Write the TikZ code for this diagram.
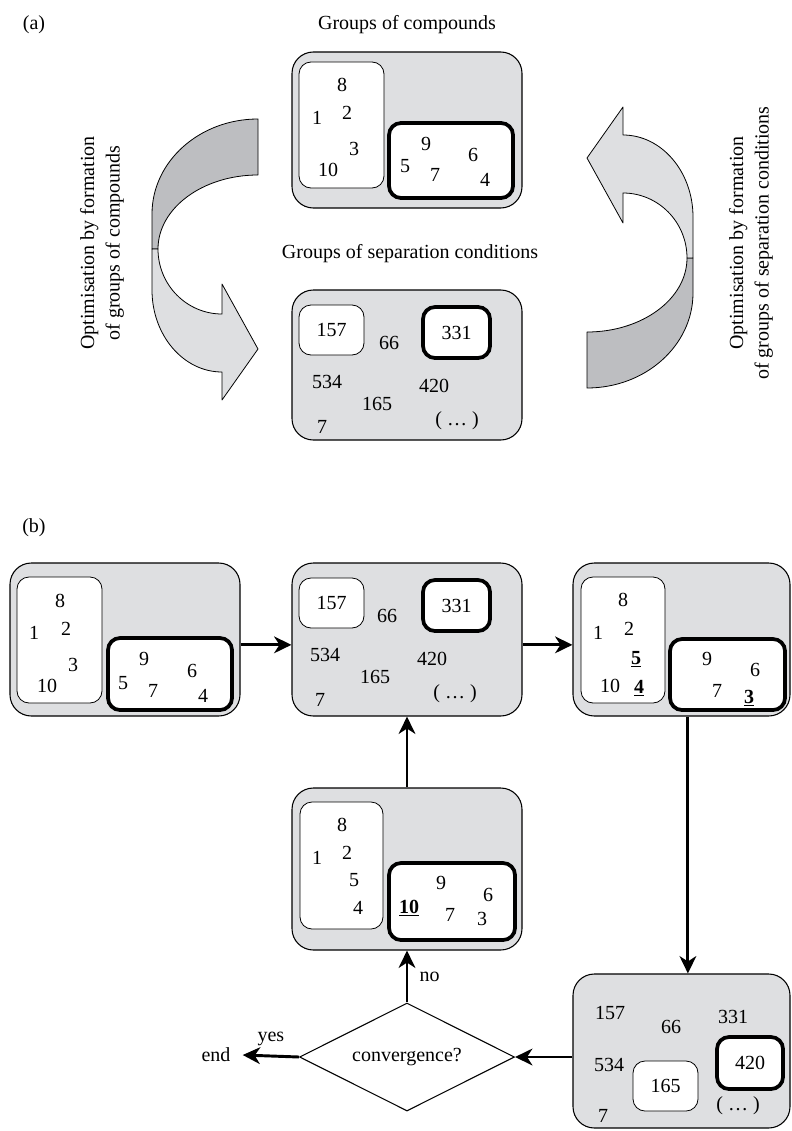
\documentclass[tikz,border=0pt]{standalone}
\usepackage{fontspec}
\setmainfont{Liberation Serif}
\usetikzlibrary{arrows.meta,shapes.geometric}
\definecolor{boxgray}{RGB}{222,223,225}
\definecolor{ribbondark}{RGB}{189,190,193}
\tikzset{
  outerbox/.style={draw, fill=boxgray, rounded corners=16pt, line width=0.8pt, inner sep=0pt},
  whitebox/.style={draw, fill=white, rounded corners=9pt, line width=0.6pt, inner sep=0pt},
  boldbox/.style={draw, fill=white, rounded corners=9pt, line width=2.8pt, inner sep=0pt},
  num/.style={inner sep=1pt},
  flow/.style={line width=2.2pt, -{Stealth[length=13pt,width=12.5pt,inset=4pt]}},
  ribbon/.style={draw, line width=0.6pt, line join=round}
}
% twisted arrow, drawn for the right side
\newcommand{\ribbonarrow}{%
  \path[ribbon, fill=ribbondark] (587,332) -- (587,388) .. controls (645.5,388) and (693,345.5) .. (693,293)
    -- (693,258) -- (687,258) .. controls (687,298.9) and (642.2,332) .. (587,332) -- cycle;
  \path[ribbon, fill=boxgray] (687,258) .. controls (687,222.1) and (658.3,193) .. (623,193) -- (623,223)
    -- (587,158) -- (623,107) -- (623,135) .. controls (661.6,135) and (693,171.7) .. (693,217)
    -- (693,258) -- cycle;}
\begin{document}
\begin{tikzpicture}[x=0.75pt, y=-0.75pt, font=\fontsize{15}{19}\selectfont]
    \useasboundingbox (0,0) rectangle (792,1131);
    % (a)
    \node (la) at (34,25) {(a)};
    \node (tcmp) at (407,25) {Groups of compounds};
    \node (tsep) at (410,254) {Groups of separation conditions};
    \ribbonarrow
    \begin{scope}[rotate around={180:(422.5,253.5)}]
    \ribbonarrow
    \end{scope}
    \node[rotate=90, align=center] (optc) at (102,243) {Optimisation by formation\\of groups of compounds};
    \node[rotate=90, align=center] (opts) at (751,243) {Optimisation by formation\\of groups of separation conditions};

    \node[outerbox, minimum width=172.5pt, minimum height=117pt] (cmpa) at (407,130) {};
    \node[whitebox, minimum width=63.75pt, minimum height=94.5pt] (cmpaw) at (341.5,125) {};
    \node[boldbox, minimum width=93pt, minimum height=56.25pt] (cmpab) at (451,160.5) {};
    \foreach \t/\x/\y in {8/342/85, 1/317/118, 2/347/113, 3/354/149, 10/328/170, 9/426/144, 5/405/166, 7/435/175, 6/473/155, 4/485/180}
        \node[num] (ca-\t) at (\x,\y) {\t};

    \node[outerbox, minimum width=172.5pt, minimum height=112.5pt] (sepa) at (407,365) {};
    \node[whitebox, minimum width=48.75pt, minimum height=37.5pt] (sepaw) at (331.5,330) {157};
    \node[boldbox, minimum width=50.25pt, minimum height=38.25pt] (sepab) at (456.5,332.5) {331};
    \foreach \t/\x/\y in {66/389/343, 534/327/382, 420/434/386, 165/377/404, 7/322/427}
        \node[num] (sa-\t) at (\x,\y) {\t};
    \node[num] (sa-dots) at (457,421) {( \dots\ )};

    % (b)
    \node (lb) at (34,528) {(b)};
    \node[outerbox, minimum width=172.5pt, minimum height=114.75pt] (b1) at (125,639.5) {};
    \node[whitebox, minimum width=63.75pt, minimum height=94.5pt] (b1w) at (59.5,640) {};
    \node[boldbox, minimum width=93pt, minimum height=54pt] (b1b) at (170,674) {};
    \foreach \t/\x/\y in {8/60/601, 1/34/633, 2/66/629, 3/73/665, 10/47/686, 9/144/659, 5/123/683, 7/153/691, 6/192/671, 4/203/696}
        \node[num] (b1-\t) at (\x,\y) {\t};

    \node[outerbox, minimum width=172.5pt, minimum height=114.75pt] (b2) at (407,639.5) {};
    \node[whitebox, minimum width=48.75pt, minimum height=37.5pt] (b2w) at (331.5,603) {157};
    \node[boldbox, minimum width=50.25pt, minimum height=38.25pt] (b2b) at (456.5,605.5) {331};
    \foreach \t/\x/\y in {66/387/616, 534/325/655, 420/432/659, 165/375/677, 7/320/700}
        \node[num] (b2-\t) at (\x,\y) {\t};
    \node[num] (b2-dots) at (455,694) {( \dots\ )};

    \node[outerbox, minimum width=162.75pt, minimum height=114.75pt] (b3) at (681.5,639.5) {};
    \node[whitebox, minimum width=63pt, minimum height=94.5pt] (b3w) at (623,640) {};
    \node[boldbox, minimum width=86.25pt, minimum height=53.25pt] (b3b) at (727.5,674.5) {};
    \foreach \t/\x/\y in {8/623/600, 1/598/633, 2/629/629, 10/610/686, 9/707/659, 6/755/670, 7/717/691}
        \node[num] (b3-\t) at (\x,\y) {\t};
    \foreach \t/\x/\y in {5/636/659, 4/639/688, 3/749/698}
        \node[num] (b3-\t) at (\x,\y) {\textbf{\underline{\t}}};

    \node[outerbox, minimum width=172.5pt, minimum height=121.5pt] (b4) at (407,869) {};
    \node[whitebox, minimum width=62.25pt, minimum height=95.25pt] (b4w) at (341.5,865.5) {};
    \node[boldbox, minimum width=94.5pt, minimum height=57.75pt] (b4b) at (452,901.5) {};
    \foreach \t/\x/\y in {8/342/825, 1/317/858, 2/347/853, 5/354/880, 4/358/908, 9/441/883, 6/488/895, 7/450/915, 3/482/919}
        \node[num] (b4-\t) at (\x,\y) {\t};
    \node[num] (b4-10) at (409,908) {\textbf{\underline{10}}};

    \node[outerbox, minimum width=162.75pt, minimum height=115.5pt] (b5) at (681.5,1051) {};
    \node[whitebox, minimum width=48.75pt, minimum height=37.5pt] (b5w) at (665.5,1086) {165};
    \node[boldbox, minimum width=49.5pt, minimum height=39pt] (b5b) at (750,1063) {420};
    \foreach \t/\x/\y in {157/610/1013, 66/671/1027, 331/733/1017, 534/609/1065, 7/603/1116}
        \node[num] (b5-\t) at (\x,\y) {\t};
    \node[num] (b5-dots) at (738,1106) {( \dots\ )};

    \node[draw, diamond, shape aspect=2, minimum width=161.25pt, minimum height=81pt, inner sep=0pt, line width=0.8pt] (conv) at (407,1057) {convergence?};
    \node[inner xsep=9pt] (end) at (216,1055) {end};

    \draw[flow] ([yshift=-4pt]b1.east) -- ([yshift=-4pt]b2.west);
    \draw[flow] ([yshift=-4pt]b2.east) -- ([yshift=-4pt]b3.west);
    \draw[flow] ([xshift=4.8pt]b3.south) -- ([xshift=4.8pt]b5.north);
    \draw[flow] (b5.west |- conv.east) -- (conv.east);
    \draw[flow] (conv.west) -- node[above=3pt] (yes) {yes} (end.east);
    \draw[flow] (conv.north) -- node[right=5pt] (no) {no} (b4.south);
    \draw[flow] (b4.north) -- (b2.south);
\end{tikzpicture}
\end{document}
